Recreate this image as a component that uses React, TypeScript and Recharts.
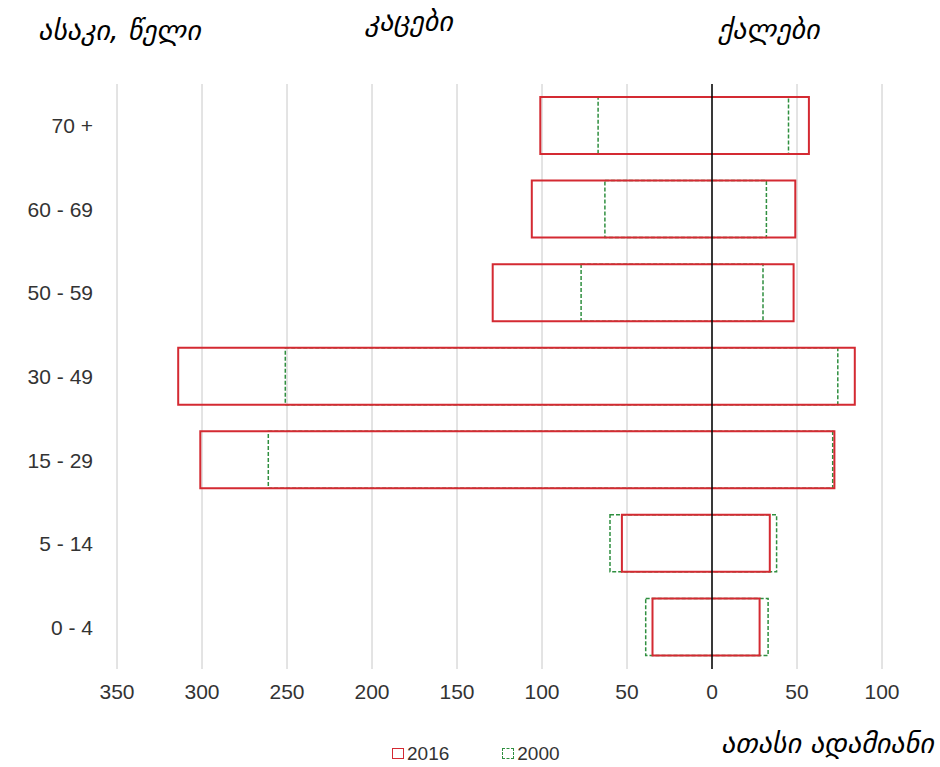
import React from "react";
import {
  BarChart,
  Bar,
  XAxis,
  YAxis,
  CartesianGrid,
  ReferenceLine,
} from "recharts";

const ages = ["70 +", "60 - 69", "50 - 59", "30 - 49", "15 - 29", "5 - 14", "0 - 4"];
const men2016 = [101, 106, 129, 314, 301, 53, 35];
const women2016 = [57, 49, 48, 84, 72, 34, 28];
const men2000 = [67, 63, 77, 251, 261, 60, 39];
const women2000 = [45, 32, 30, 74, 71, 38, 33];
const xTicks = [-350, -300, -250, -200, -150, -100, -50, 0, 50, 100];

const data = ages.map((age, i) => ({
  age,
  y2016: [-men2016[i], women2016[i]],
  y2000: [-men2000[i], women2000[i]],
}));

const RED = "#d42a32";
const GREEN = "#2f8f3f";
const geo: React.CSSProperties = {
  position: "absolute",
  fontFamily: "'DejaVu Sans', sans-serif",
  fontStyle: "italic",
  fontSize: 28,
  color: "#000",
  whiteSpace: "nowrap",
  lineHeight: 1,
};
const tickStyle = { fill: "#333", fontSize: 21, fontFamily: "'Liberation Sans', Arial" };

const App: React.FC = () => {
  return (
    <div
      style={{
        position: "absolute",
        left: 0,
        top: 0,
        width: 940,
        height: 767,
        background: "#fff",
      }}
    >
      <BarChart
        width={940}
        height={767}
        data={data}
        layout="vertical"
        margin={{ top: 84, right: 58, left: 17, bottom: 58 }}
        barSize={57}
        barGap={-57}
      >
        <CartesianGrid horizontal={false} stroke="#c8c8c8" />
        <XAxis
          type="number"
          domain={[-350, 100]}
          ticks={xTicks}
          tickFormatter={(v: number) => String(Math.abs(v))}
          axisLine={false}
          tickLine={false}
          height={40}
          tick={tickStyle}
          tickMargin={9}
        />
        <YAxis
          type="category"
          dataKey="age"
          width={100}
          axisLine={false}
          tickLine={false}
          tick={tickStyle}
          tickMargin={18}
        />
        <Bar
          dataKey="y2000"
          isAnimationActive={false}
          fill="none"
          stroke={GREEN}
          strokeWidth={1.5}
          strokeDasharray="4 2"
        />
        <Bar
          dataKey="y2016"
          isAnimationActive={false}
          fill="none"
          stroke={RED}
          strokeWidth={2}
        />
        <ReferenceLine x={0} stroke="#000" strokeWidth={1.5} />
      </BarChart>

      <div style={{ ...geo, left: 38, top: 17 }}>ასაკი, წელი</div>
      <div style={{ ...geo, left: 365, top: 8 }}>კაცები</div>
      <div style={{ ...geo, left: 718, top: 16 }}>ქალები</div>
      <div style={{ ...geo, left: 721, top: 730 }}>ათასი ადამიანი</div>

      <div
        style={{
          position: "absolute",
          top: 744,
          left: 392,
          display: "flex",
          gap: 53,
          fontFamily: "'Liberation Sans', Arial",
          fontSize: 19,
          color: "#333",
          lineHeight: 1,
        }}
      >
        {[
          { name: "2016", color: RED, dash: "solid" },
          { name: "2000", color: GREEN, dash: "dashed" },
        ].map((s) => (
          <span key={s.name} style={{ display: "flex", alignItems: "center" }}>
            <span
              style={{
                display: "inline-block",
                width: 10,
                height: 9,
                border: `1.5px ${s.dash} ${s.color}`,
                marginRight: 3,
              }}
            />
            {s.name}
          </span>
        ))}
      </div>
    </div>
  );
};

export default App;
